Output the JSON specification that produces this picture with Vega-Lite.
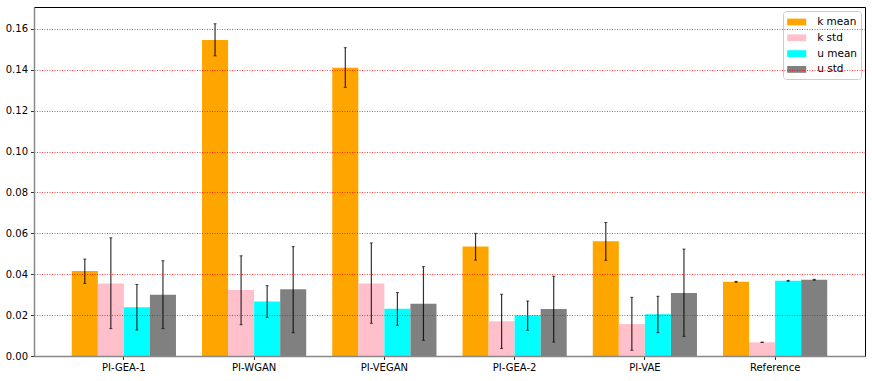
{
  "$schema": "https://vega.github.io/schema/vega-lite/v6.json",
  "width": 831,
  "height": 349,
  "autosize": {"type": "none"},
  "padding": {"left": 34, "top": 7, "right": 7, "bottom": 25},
  "background": "white",
  "config": {
    "font": "DejaVu Sans",
    "view": {"stroke": "#000", "strokeWidth": 1}
  },
  "data": {
    "values": [
      {"group": "PI-GEA-1", "series": "k mean", "value": 0.0416, "lo": 0.0355, "hi": 0.0474},
      {"group": "PI-GEA-1", "series": "k std", "value": 0.0355, "lo": 0.0134, "hi": 0.0578},
      {"group": "PI-GEA-1", "series": "u mean", "value": 0.0238, "lo": 0.0127, "hi": 0.035},
      {"group": "PI-GEA-1", "series": "u std", "value": 0.030, "lo": 0.0134, "hi": 0.0466},
      {"group": "PI-WGAN", "series": "k mean", "value": 0.1545, "lo": 0.1468, "hi": 0.1625},
      {"group": "PI-WGAN", "series": "k std", "value": 0.0323, "lo": 0.0153, "hi": 0.049},
      {"group": "PI-WGAN", "series": "u mean", "value": 0.0267, "lo": 0.0189, "hi": 0.0344},
      {"group": "PI-WGAN", "series": "u std", "value": 0.0326, "lo": 0.0114, "hi": 0.0535},
      {"group": "PI-VEGAN", "series": "k mean", "value": 0.141, "lo": 0.1314, "hi": 0.1508},
      {"group": "PI-VEGAN", "series": "k std", "value": 0.0355, "lo": 0.016, "hi": 0.0553},
      {"group": "PI-VEGAN", "series": "u mean", "value": 0.0231, "lo": 0.015, "hi": 0.031},
      {"group": "PI-VEGAN", "series": "u std", "value": 0.0256, "lo": 0.0077, "hi": 0.0437},
      {"group": "PI-GEA-2", "series": "k mean", "value": 0.0535, "lo": 0.0469, "hi": 0.060},
      {"group": "PI-GEA-2", "series": "k std", "value": 0.017, "lo": 0.0037, "hi": 0.0302},
      {"group": "PI-GEA-2", "series": "u mean", "value": 0.0199, "lo": 0.0126, "hi": 0.0269},
      {"group": "PI-GEA-2", "series": "u std", "value": 0.023, "lo": 0.0068, "hi": 0.039},
      {"group": "PI-VAE", "series": "k mean", "value": 0.0561, "lo": 0.0468, "hi": 0.0653},
      {"group": "PI-VAE", "series": "k std", "value": 0.0156, "lo": 0.0028, "hi": 0.0287},
      {"group": "PI-VAE", "series": "u mean", "value": 0.0204, "lo": 0.0114, "hi": 0.0292},
      {"group": "PI-VAE", "series": "u std", "value": 0.0308, "lo": 0.0096, "hi": 0.0523},
      {"group": "Reference", "series": "k mean", "value": 0.0363, "lo": 0.0361, "hi": 0.0365},
      {"group": "Reference", "series": "k std", "value": 0.0067, "lo": 0.0066, "hi": 0.0068},
      {"group": "Reference", "series": "u mean", "value": 0.0368, "lo": 0.0366, "hi": 0.037},
      {"group": "Reference", "series": "u std", "value": 0.0373, "lo": 0.0371, "hi": 0.0375}
    ]
  },
  "encoding": {
    "x": {
      "field": "group",
      "type": "nominal",
      "sort": ["PI-GEA-1", "PI-WGAN", "PI-VEGAN", "PI-GEA-2", "PI-VAE", "Reference"],
      "scale": {"paddingInner": 0.2, "paddingOuter": 0.29},
      "axis": {
        "title": null,
        "labelAngle": 0,
        "labelFontSize": 10,
        "labelColor": "#000",
        "labelPadding": 3,
        "tickSize": 3.5,
        "tickColor": "#333",
        "domainColor": "#888",
        "domainWidth": 1.5,
        "zindex": 2
      }
    },
    "xOffset": {
      "field": "series",
      "type": "nominal",
      "sort": ["k mean", "k std", "u mean", "u std"],
      "scale": {"paddingInner": 0, "paddingOuter": 0}
    }
  },
  "layer": [
    {
      "mark": {"type": "bar"},
      "encoding": {
        "y": {
          "field": "value",
          "type": "quantitative",
          "scale": {"domain": [0, 0.1707], "nice": false, "zero": true},
          "axis": {
            "title": null,
            "values": [0, 0.02, 0.04, 0.06, 0.08, 0.1, 0.12, 0.14, 0.16],
            "format": ".2f",
            "labelFontSize": 10,
            "labelColor": "#000",
            "labelPadding": 3,
            "tickSize": 3.5,
            "tickColor": "#333",
            "domainColor": "#888",
            "domainWidth": 1.5,
            "grid": true,
            "gridColor": "#ff0000",
            "gridDash": [1, 1.5],
            "gridOpacity": 0.75,
            "gridWidth": 1,
            "zindex": 1
          }
        },
        "color": {
          "field": "series",
          "type": "nominal",
          "sort": ["k mean", "k std", "u mean", "u std"],
          "scale": {
            "domain": ["k mean", "k std", "u mean", "u std"],
            "range": ["#FFA500", "#FFC0CB", "#00FFFF", "#808080"]
          },
          "legend": {
            "title": null,
            "orient": "top-right",
            "offset": 4,
            "padding": 4,
            "fillColor": "white",
            "strokeColor": "#ccc",
            "cornerRadius": 3,
            "labelFontSize": 10.5,
            "labelColor": "#000",
            "labelOffset": 13.5,
            "rowPadding": 2.8,
            "symbolOffset": 2.7,
            "symbolType": "M-1.4,-0.5L1.4,-0.5L1.4,0.5L-1.4,0.5Z",
            "symbolSize": 185,
            "symbolStrokeWidth": 0,
            "symbolOpacity": 1
          }
        }
      }
    },
    {
      "mark": {"type": "rule", "color": "#000", "opacity": 0.8, "strokeWidth": 1.2},
      "encoding": {
        "y": {"field": "lo", "type": "quantitative"},
        "y2": {"field": "hi"}
      }
    },
    {
      "mark": {"type": "tick", "color": "#000", "size": 3, "thickness": 1},
      "encoding": {
        "y": {"field": "lo", "type": "quantitative"}
      }
    },
    {
      "mark": {"type": "tick", "color": "#000", "size": 3, "thickness": 1},
      "encoding": {
        "y": {"field": "hi", "type": "quantitative"}
      }
    }
  ]
}
